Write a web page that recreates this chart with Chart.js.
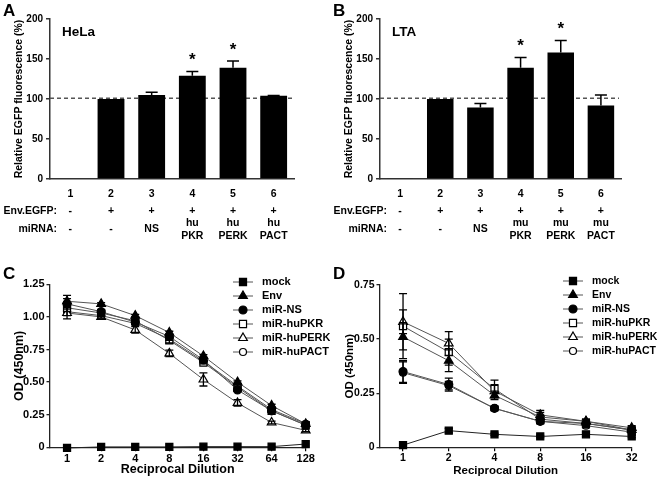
<!DOCTYPE html>
<html>
<head>
<meta charset="utf-8">
<script src="https://cdn.jsdelivr.net/npm/chart.js@4.4.0/dist/chart.umd.min.js"></script>
<style>
  body { margin: 0; background: #fff; }
  #marco { position: relative; width: 657px; height: 481px; background: #fff; }
  canvas { position: absolute; }
</style>
</head>
<body>
<div id="marco">
  <canvas id="panelA" width="330" height="240" style="left:0;top:0"></canvas>
  <canvas id="panelB" width="327" height="240" style="left:330px;top:0"></canvas>
  <canvas id="panelC" width="330" height="241" style="left:0;top:240px"></canvas>
  <canvas id="panelD" width="327" height="241" style="left:330px;top:240px"></canvas>
</div>
<script>
const fuente = '"Liberation Sans", Arial, sans-serif'

// ---- datos de las barras (A y B)
const grupos = ['1', '2', '3', '4', '5', '6']
const envEgfp = ['-', '+', '+', '+', '+', '+']
const mirnaA = [['-'], ['-'], ['NS'], ['hu', 'PKR'], ['hu', 'PERK'], ['hu', 'PACT']]
const mirnaB = [['-'], ['-'], ['NS'], ['mu', 'PKR'], ['mu', 'PERK'], ['mu', 'PACT']]
const valoresA = [0, 100, 105, 129, 139, 104]
const erroresA = [0, 0, 3.5, 5.5, 8.5, 0.5]
const valoresB = [1, 100, 89.5, 139, 158, 92]
const erroresB = [0, 0, 5, 13, 15, 13]
const asteriscos = ['', '', '', '*', '*', '']
const ticksBarras = ['0', '50', '100', '150', '200']
const referencia = 101

// ---- datos de las curvas (C y D)
const series = ['mock', 'Env', 'miR-NS', 'miR-huPKR', 'miR-huPERK', 'miR-huPACT']

const dilucionC = [1, 2, 4, 8, 16, 32, 64, 128]
const mockC = [-0.005, 0.003, 0.003, 0.003, 0.005, 0.005, 0.005, 0.025]
const envC = [1.12, 1.10, 1.01, 0.88, 0.70, 0.50, 0.32, 0.18]
const nsC = [1.10, 1.04, 0.96, 0.85, 0.67, 0.44, 0.28, 0.17]
const pkrC = [1.07, 1.03, 0.97, 0.82, 0.65, 0.46, 0.28, 0.17]
const perkC = [1.03, 1.00, 0.90, 0.72, 0.52, 0.34, 0.19, 0.13]
const pactC = [1.04, 1.01, 0.95, 0.83, 0.66, 0.47, 0.29, 0.18]
const errMockC = [0, 0, 0, 0, 0, 0, 0, 0]
const errEnvC = [0.045, 0.01, 0.01, 0.01, 0.01, 0.01, 0.01, 0.01]
const errNsC = [0.04, 0.01, 0.02, 0.01, 0.01, 0.01, 0.01, 0.01]
const errPkrC = [0.03, 0.02, 0.01, 0.02, 0.01, 0.01, 0.01, 0.01]
const errPerkC = [0.045, 0.01, 0.025, 0.025, 0.05, 0.025, 0.01, 0.01]
const errPactC = [0.03, 0.02, 0.01, 0.01, 0.01, 0.01, 0.01, 0.01]
const ticksC = ['0', '0.25', '0.50', '0.75', '1.00', '1.25']

const dilucionD = [1, 2, 4, 8, 16, 32]
const mockD = [0.01, 0.077, 0.06, 0.05, 0.06, 0.05]
const envD = [0.51, 0.40, 0.24, 0.14, 0.12, 0.09]
const nsD = [0.35, 0.29, 0.18, 0.12, 0.11, 0.08]
const pkrD = [0.56, 0.44, 0.27, 0.13, 0.11, 0.08]
const perkD = [0.58, 0.48, 0.26, 0.15, 0.12, 0.08]
const pactD = [0.345, 0.285, 0.18, 0.12, 0.10, 0.07]
const errMockD = [0.005, 0.01, 0.005, 0.005, 0.01, 0.005]
const errEnvD = [0.06, 0.05, 0.02, 0.02, 0.01, 0.01]
const errNsD = [0.05, 0.03, 0.01, 0.01, 0.01, 0.01]
const errPkrD = [0.15, 0.06, 0.04, 0.02, 0.01, 0.01]
const errPerkD = [0.055, 0.055, 0.03, 0.02, 0.01, 0.01]
const errPactD = [0.05, 0.02, 0.01, 0.01, 0.01, 0.01]
const ticksD = ['0', '0.25', '0.50', '0.75']

// marcadores de cada serie
const marcas = [
    { pointStyle: 'rect', radius: 5, relleno: '#000' },
    { pointStyle: 'triangle', radius: 5, relleno: '#000' },
    { pointStyle: 'circle', radius: 4, relleno: '#000' },
    { pointStyle: 'rect', radius: 5, relleno: '#fff' },
    { pointStyle: 'triangle', radius: 5, relleno: '#fff' },
    { pointStyle: 'circle', radius: 3.5, relleno: '#fff' }
]

function f(size) {
    return { family: fuente, size: size, weight: 'bold' }
}

function texto(ctx, t, x, y, size, align) {
    ctx.save()
    ctx.font = 'bold ' + size + 'px ' + fuente
    ctx.fillStyle = '#000'
    ctx.textAlign = align || 'left'
    ctx.textBaseline = 'middle'
    ctx.fillText(t, x, y)
    ctx.restore()
}

function grafico_barras(id, valores, errores, mirna, letra, celula) {
    const ctx = document.getElementById(id)
    new Chart(ctx, {
        type: 'bar',
        data: {
            labels: grupos,
            datasets: [{
                data: valores,
                backgroundColor: '#000',
                borderWidth: 0,
                categoryPercentage: 1,
                barPercentage: 0.66
            }]
        },
        options: {
            responsive: false,
            animation: false,
            layout: { padding: { top: 19, right: 36, left: 0, bottom: 0 } },
            plugins: { legend: { display: false }, tooltip: { enabled: false } },
            scales: {
                x: {
                    grid: { display: false },
                    border: { color: '#333', width: 1.5 },
                    ticks: { color: '#000', font: f(10.5), padding: 1 },
                    afterFit: s => { s.height = 61 }
                },
                y: {
                    min: 0, max: 200,
                    ticks: { stepSize: 50, callback: (v, i) => ticksBarras[i], color: '#000', font: f(10), padding: 3 },
                    grid: { drawOnChartArea: false, drawTicks: true, tickLength: 4, color: '#333', lineWidth: 1.5 },
                    border: { color: '#333', width: 1.5 },
                    title: { display: true, text: 'Relative EGFP fluorescence (%)', color: '#000', font: f(10.5), padding: { top: 13, bottom: 0 } },
                    afterFit: s => { s.width = 50 }
                }
            }
        },
        plugins: [{
            id: 'extras',
            beforeDatasetsDraw(chart) {
                // linea punteada del 100 %
                const c = chart.ctx
                const y = chart.scales.y.getPixelForValue(referencia)
                c.save()
                c.strokeStyle = '#555'
                c.lineWidth = 1.5
                c.setLineDash([4, 3])
                c.beginPath()
                c.moveTo(chart.chartArea.left, y)
                c.lineTo(chart.chartArea.right - 2, y)
                c.stroke()
                c.restore()
            },
            afterDatasetsDraw(chart) {
                const c = chart.ctx
                const meta = chart.getDatasetMeta(0)
                const ys = chart.scales.y
                c.save()
                c.strokeStyle = '#000'
                c.lineWidth = 1.5
                meta.data.forEach((bar, i) => {
                    if (!errores[i]) return
                    const y0 = ys.getPixelForValue(valores[i])
                    const y1 = ys.getPixelForValue(valores[i] + errores[i])
                    c.beginPath()
                    c.moveTo(bar.x, y0)
                    c.lineTo(bar.x, y1)
                    c.moveTo(bar.x - 6, y1)
                    c.lineTo(bar.x + 6, y1)
                    c.stroke()
                    if (asteriscos[i]) texto(c, asteriscos[i], bar.x, y1 - 11, 17, 'center')
                })
                c.restore()
                // filas de condiciones
                texto(c, 'Env.EGFP:', 57, 211, 10.5, 'right')
                texto(c, 'miRNA:', 57, 229, 10.5, 'right')
                meta.data.forEach((bar, i) => {
                    texto(c, envEgfp[i], bar.x, 211, 10.5, 'center')
                    if (mirna[i].length == 1) texto(c, mirna[i][0], bar.x, 229, 10.5, 'center')
                    else {
                        texto(c, mirna[i][0], bar.x, 223, 10.5, 'center')
                        texto(c, mirna[i][1], bar.x, 236, 10.5, 'center')
                    }
                })
                texto(c, letra, 3, 11, 17)
                texto(c, celula, 62, 32, 13.5)
            }
        }]
    })
}

function grafico_lineas(id, dilucion, datos, errores, ticksY, cfg) {
    const ctx = document.getElementById(id)
    const conjuntos = datos.map((serie, k) => ({
        label: series[k],
        data: dilucion.map((d, j) => ({ x: d, y: serie[j] })),
        borderColor: k == 0 ? '#222' : '#555',
        borderWidth: 1,
        pointStyle: marcas[k].pointStyle,
        pointRadius: marcas[k].radius,
        pointBackgroundColor: marcas[k].relleno,
        pointBorderColor: '#000',
        pointBorderWidth: 1.2,
        clip: false
    }))

    new Chart(ctx, {
        type: 'line',
        data: { datasets: conjuntos },
        options: {
            responsive: false,
            animation: false,
            layout: { padding: { top: cfg.top, right: cfg.right, left: 0, bottom: 0 } },
            plugins: { legend: { display: false }, tooltip: { enabled: false } },
            scales: {
                x: {
                    type: 'logarithmic',
                    min: cfg.xmin, max: dilucion[dilucion.length - 1],
                    afterBuildTicks: s => { s.ticks = dilucion.map(v => ({ value: v })) },
                    ticks: { autoSkip: false, maxRotation: 0, callback: v => String(v), color: '#000', font: f(cfg.fTick), padding: 1 },
                    grid: { drawOnChartArea: false, drawTicks: true, tickLength: 4, color: '#000', lineWidth: 1.2 },
                    border: { color: '#222', width: 1.3 },
                    title: { display: true, text: 'Reciprocal Dilution', color: '#000', font: f(cfg.fTitle), padding: { top: 0, bottom: 3.5 } },
                    afterFit: s => { s.height = 33.7 }
                },
                y: {
                    min: 0, max: cfg.ymax,
                    ticks: { stepSize: 0.25, callback: (v, i) => ticksY[i], color: '#000', font: f(cfg.fTick), padding: 2 },
                    grid: { drawOnChartArea: false, drawTicks: true, tickLength: 3, color: '#222', lineWidth: 1.3 },
                    border: { color: '#222', width: 1.3 },
                    title: { display: true, text: 'OD (450nm)', color: '#000', font: f(cfg.fTitle), padding: { top: 12.5, bottom: 0 } },
                    afterFit: s => { s.width = 49.5 }
                }
            }
        },
        plugins: [{
            id: 'errores',
            afterDatasetsDraw(chart) {
                const c = chart.ctx
                const ys = chart.scales.y
                c.save()
                c.strokeStyle = '#000'
                c.lineWidth = 1.3
                datos.forEach((serie, k) => {
                    const meta = chart.getDatasetMeta(k)
                    meta.data.forEach((p, j) => {
                        const e = errores[k][j]
                        if (!e) return
                        const y1 = ys.getPixelForValue(serie[j] + e)
                        const y2 = ys.getPixelForValue(serie[j] - e)
                        c.beginPath()
                        c.moveTo(p.x, y1)
                        c.lineTo(p.x, y2)
                        c.moveTo(p.x - 4, y1)
                        c.lineTo(p.x + 4, y1)
                        c.moveTo(p.x - 4, y2)
                        c.lineTo(p.x + 4, y2)
                        c.stroke()
                    })
                })
                c.restore()

                // leyenda a la derecha
                series.forEach((nombre, k) => {
                    const y = cfg.leyY + k * 14
                    const x0 = cfg.leyX
                    c.save()
                    c.strokeStyle = '#555'
                    c.lineWidth = 1
                    c.beginPath()
                    c.moveTo(x0, y)
                    c.lineTo(x0 + 20, y)
                    c.stroke()
                    c.fillStyle = marcas[k].relleno
                    c.strokeStyle = '#000'
                    c.lineWidth = 1.2
                    Chart.helpers.drawPoint(c, { pointStyle: marcas[k].pointStyle, radius: marcas[k].radius, borderWidth: 1.2, rotation: 0 }, x0 + 10, y)
                    c.restore()
                    texto(c, nombre, x0 + 29, y, cfg.fLey)
                })
                texto(c, cfg.letra, 3, 34, 17)
            }
        }]
    })
}

grafico_barras('panelA', valoresA, erroresA, mirnaA, 'A', 'HeLa')
grafico_barras('panelB', valoresB, erroresB, mirnaB, 'B', 'LTA')

grafico_lineas('panelC', dilucionC,
    [mockC, envC, nsC, pkrC, perkC, pactC],
    [errMockC, errEnvC, errNsC, errPkrC, errPerkC, errPactC],
    ticksC,
    { top: 44.3, right: 24.3, xmin: 0.70, ymax: 1.25, fTick: 11, fTitle: 12.5, fLey: 11, leyX: 233, leyY: 42, letra: 'C' })

grafico_lineas('panelD', dilucionD,
    [mockD, envD, nsD, pkrD, perkD, pactD],
    [errMockD, errEnvD, errNsD, errPkrD, errPerkD, errPactD],
    ticksD,
    { top: 45, right: 25.3, xmin: 0.736, ymax: 0.75, fTick: 10.5, fTitle: 11.5, fLey: 10.5, leyX: 233, leyY: 41, letra: 'D' })
</script>
</body>
</html>
